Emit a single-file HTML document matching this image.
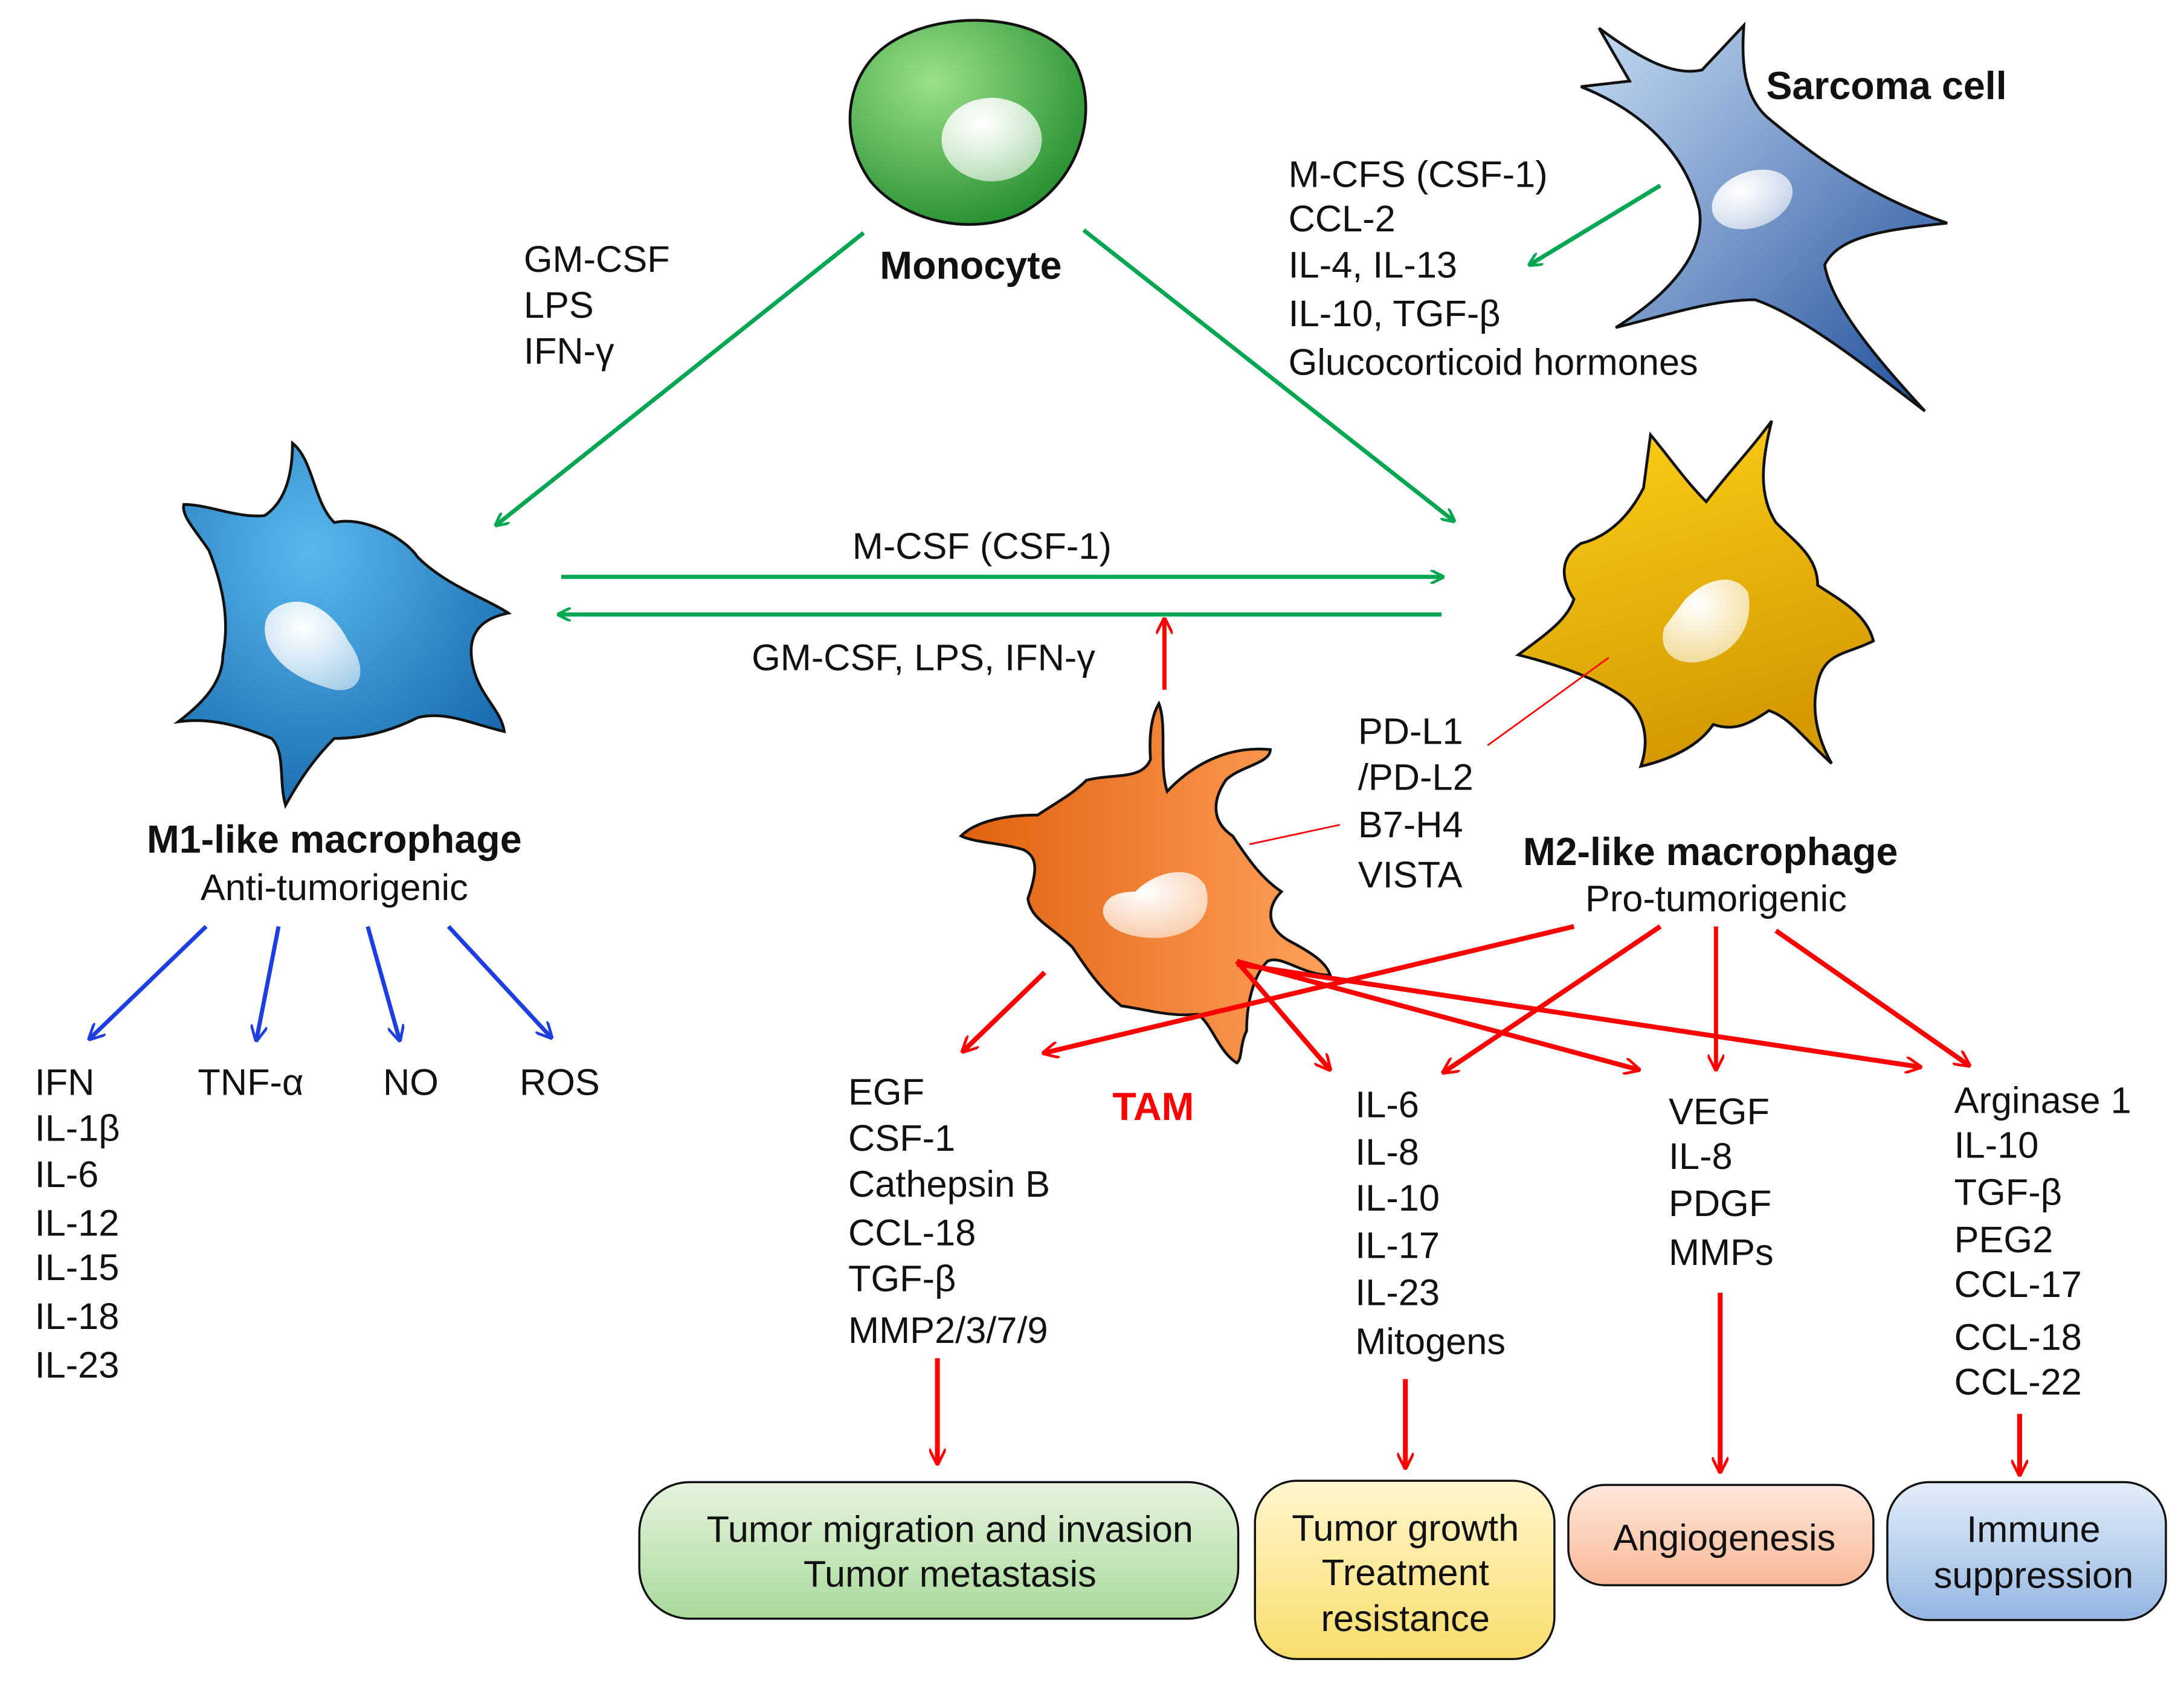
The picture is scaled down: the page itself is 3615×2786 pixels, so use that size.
<!DOCTYPE html>
<html><head><meta charset="utf-8"><style>
html,body{margin:0;padding:0;background:#fff;}
svg{display:block;}
text{font-family:"Liberation Sans",Arial,sans-serif;font-size:26.6px;fill:#111;}
.b{font-weight:bold;font-size:28px;}
.m{text-anchor:middle;}
</style></head><body>
<svg width="3615" height="2786" viewBox="0 0 1568 1208" xmlns="http://www.w3.org/2000/svg">
<defs>
<marker id="ag" markerWidth="10" markerHeight="10" refX="9" refY="5" orient="auto" markerUnits="userSpaceOnUse"><path d="M0,0 L10,5 L0,10" fill="none" stroke="#00a651" stroke-width="2"/></marker>
<marker id="ab" markerWidth="12" markerHeight="12" refX="11" refY="6" orient="auto" markerUnits="userSpaceOnUse"><path d="M0,0 L12,6 L0,12" fill="none" stroke="#1d3fe0" stroke-width="2"/></marker>
<marker id="ar" markerWidth="12" markerHeight="12" refX="11" refY="6" orient="auto" markerUnits="userSpaceOnUse"><path d="M0,0 L12,6 L0,12" fill="none" stroke="#f00" stroke-width="2"/></marker>
<radialGradient id="gm" cx="0.35" cy="0.3" r="0.8"><stop offset="0" stop-color="#9be08a"/><stop offset="1" stop-color="#1e8a2a"/></radialGradient>
<radialGradient id="gb" cx="0.4" cy="0.3" r="0.8"><stop offset="0" stop-color="#5ab8ee"/><stop offset="1" stop-color="#1465a8"/></radialGradient>
<linearGradient id="gs" x1="0" y1="0" x2="1" y2="1"><stop offset="0" stop-color="#c7dcf3"/><stop offset="1" stop-color="#1c4c9a"/></linearGradient>
<linearGradient id="gy" x1="0" y1="0" x2="0.3" y2="1"><stop offset="0" stop-color="#ffd11a"/><stop offset="1" stop-color="#d49a00"/></linearGradient>
<linearGradient id="go" x1="0" y1="0" x2="1" y2="0"><stop offset="0" stop-color="#e0620f"/><stop offset="1" stop-color="#ffa05a"/></linearGradient>
<radialGradient id="gn" cx="0.4" cy="0.3" r="0.8"><stop offset="0" stop-color="#fff"/><stop offset="1" stop-color="#fff" stop-opacity="0.55"/></radialGradient>
<linearGradient id="bg1" x1="0" y1="0" x2="0" y2="1"><stop offset="0" stop-color="#e6f3df"/><stop offset="1" stop-color="#a9d99a"/></linearGradient>
<linearGradient id="bg2" x1="0" y1="0" x2="0" y2="1"><stop offset="0" stop-color="#fff6cf"/><stop offset="1" stop-color="#f9dd6a"/></linearGradient>
<linearGradient id="bg3" x1="0" y1="0" x2="0" y2="1"><stop offset="0" stop-color="#ffe8dc"/><stop offset="1" stop-color="#f8b896"/></linearGradient>
<linearGradient id="bg4" x1="0" y1="0" x2="0" y2="1"><stop offset="0" stop-color="#e3edf9"/><stop offset="1" stop-color="#94b6e2"/></linearGradient>
</defs>

<path d="M640,30 C680,5 750,10 772,45 C790,80 775,130 735,152 C700,170 650,160 625,130 C600,95 608,50 640,30Z" fill="url(#gm)" stroke="#111" stroke-width="2"/>
<ellipse cx="712" cy="100" rx="36" ry="30" fill="url(#gn)"/>
<text class="b m" x="697" y="200">Monocyte</text>

<path d="M1148,20 C1175,40 1200,55 1222,50 L1252,18 C1250,45 1252,70 1270,85 C1300,110 1340,140 1398,160 C1350,165 1320,170 1310,190 C1315,220 1350,260 1382,295 C1330,255 1290,225 1260,215 C1230,215 1200,225 1160,235 C1200,210 1225,180 1220,150 C1210,110 1180,80 1135,62 L1170,58 Z" fill="url(#gs)" stroke="#111" stroke-width="2"/>
<ellipse cx="1258" cy="143" rx="30" ry="20" transform="rotate(-20 1258 143)" fill="url(#gn)"/>
<text class="b" x="1268" y="71">Sarcoma cell</text>

<text x="925" y="134">M-CFS (CSF-1)</text>
<text x="925" y="166">CCL-2</text>
<text x="925" y="199">IL-4, IL-13</text>
<text x="925" y="234">IL-10, TGF-β</text>
<text x="925" y="269">Glucocorticoid hormones</text>
<line x1="1192" y1="133" x2="1098" y2="190" stroke="#00a651" stroke-width="3" marker-end="url(#ag)"/>

<text x="376" y="195">GM-CSF</text>
<text x="376" y="228">LPS</text>
<text x="376" y="261">IFN-γ</text>
<line x1="620" y1="167" x2="356" y2="377" stroke="#00a651" stroke-width="3" marker-end="url(#ag)"/>
<line x1="778" y1="165" x2="1044" y2="374" stroke="#00a651" stroke-width="3" marker-end="url(#ag)"/>

<path d="M210,318 C225,330 225,360 240,375 C260,370 290,385 300,400 C320,420 350,430 365,440 C340,445 335,460 340,480 C345,500 360,510 362,525 C340,520 320,510 300,515 C280,525 260,530 240,530 C225,545 215,560 205,578 C200,560 205,540 195,530 C170,520 150,515 128,518 C145,505 160,490 160,470 C165,445 160,420 150,395 C140,380 130,370 132,362 C150,362 170,372 190,370 C205,360 210,340 210,318Z" fill="url(#gb)" stroke="#111" stroke-width="2"/>
<path d="M200,435 C220,425 240,440 250,460 C265,480 260,498 240,495 C220,490 200,480 192,462 C188,450 190,440 200,435Z" fill="url(#gn)"/>
<text class="b m" x="240" y="612">M1-like macrophage</text>
<text class="m" x="240" y="646">Anti-tumorigenic</text>

<text class="m" x="705" y="401">M-CSF (CSF-1)</text>
<line x1="403" y1="414" x2="1036" y2="414" stroke="#00a651" stroke-width="3" marker-end="url(#ag)"/>
<line x1="1035" y1="441" x2="401" y2="441" stroke="#00a651" stroke-width="3" marker-end="url(#ag)"/>
<text class="m" x="663" y="481">GM-CSF, LPS, IFN-γ</text>
<line x1="836" y1="495" x2="836" y2="444" stroke="#f00" stroke-width="3" marker-end="url(#ar)"/>

<path d="M1185,312 C1200,330 1210,345 1225,360 C1240,340 1255,325 1272,302 C1265,330 1262,355 1275,375 C1290,390 1305,400 1305,420 C1320,430 1340,440 1345,460 C1325,470 1310,468 1305,490 C1300,510 1305,530 1315,548 C1295,530 1285,515 1270,510 C1255,520 1245,525 1230,520 C1220,535 1200,545 1178,550 C1185,530 1180,510 1165,500 C1150,490 1130,480 1090,470 C1110,455 1125,445 1130,430 C1120,415 1120,400 1135,390 C1155,385 1170,370 1180,350 Z" fill="url(#gy)" stroke="#111" stroke-width="2"/>
<path d="M1210,430 C1225,415 1245,410 1255,425 C1260,450 1245,470 1220,475 C1200,478 1190,465 1195,450 Z" fill="url(#gn)"/>
<text class="b m" x="1228" y="621">M2-like macrophage</text>
<text class="m" x="1232" y="654">Pro-tumorigenic</text>

<text x="975" y="534">PD-L1</text>
<text x="975" y="567">/PD-L2</text>
<text x="975" y="601">B7-H4</text>
<text x="975" y="637">VISTA</text>
<line x1="1068" y1="535" x2="1155" y2="472" stroke="#f00" stroke-width="1.2"/>
<line x1="897" y1="606" x2="962" y2="592" stroke="#f00" stroke-width="1.2"/>

<path d="M832,505 C838,520 832,550 838,568 C855,550 880,535 912,538 C912,548 890,550 880,560 C870,575 870,590 885,600 C895,615 905,630 920,640 C910,650 908,665 925,675 C940,683 952,690 955,700 C935,700 920,685 910,690 C900,700 895,720 895,740 C890,750 892,760 888,763 C875,755 870,735 860,728 C840,730 825,725 805,722 C790,710 780,695 770,680 C755,665 740,660 738,645 C745,625 745,615 735,610 C720,605 700,605 690,600 C700,590 720,585 745,585 C760,575 770,570 780,560 C800,555 820,560 826,545 C825,530 826,515 832,505Z" fill="url(#go)" stroke="#111" stroke-width="2"/>
<path d="M815,640 C830,625 855,620 865,635 C872,655 860,670 835,673 C810,675 790,665 792,652 C795,642 805,640 815,640Z" fill="url(#gn)"/>
<text class="b m" x="828" y="804" style="fill:#f00">TAM</text>

<line x1="148" y1="665" x2="64" y2="746" stroke="#1d3fe0" stroke-width="3" marker-end="url(#ab)"/>
<line x1="200" y1="665" x2="184" y2="747" stroke="#1d3fe0" stroke-width="3" marker-end="url(#ab)"/>
<line x1="264" y1="665" x2="287" y2="747" stroke="#1d3fe0" stroke-width="3" marker-end="url(#ab)"/>
<line x1="322" y1="665" x2="396" y2="745" stroke="#1d3fe0" stroke-width="3" marker-end="url(#ab)"/>

<text x="25" y="786">IFN</text>
<text x="25" y="819">IL-1β</text>
<text x="25" y="852">IL-6</text>
<text x="25" y="887">IL-12</text>
<text x="25" y="919">IL-15</text>
<text x="25" y="954">IL-18</text>
<text x="25" y="989">IL-23</text>
<text x="142" y="786">TNF-α</text>
<text x="275" y="786">NO</text>
<text x="373" y="786">ROS</text>

<g stroke="#f00" stroke-width="3.5" fill="none">
<line x1="750" y1="698" x2="691" y2="755" marker-end="url(#ar)"/>
<line x1="1130" y1="665" x2="749" y2="756" marker-end="url(#ar)"/>
<line x1="1192" y1="665" x2="1036" y2="770" marker-end="url(#ar)"/>
<line x1="1232" y1="665" x2="1232" y2="768" stroke-width="3" marker-end="url(#ar)"/>
<line x1="1275" y1="668" x2="1414" y2="765" marker-end="url(#ar)"/>
<line x1="888" y1="690" x2="955" y2="768" marker-end="url(#ar)"/>
<line x1="888" y1="690" x2="1177" y2="768" marker-end="url(#ar)"/>
<line x1="888" y1="692" x2="1379" y2="766" marker-end="url(#ar)"/>
<line x1="673" y1="975" x2="673" y2="1051" marker-end="url(#ar)"/>
<line x1="1009" y1="990" x2="1009" y2="1054" marker-end="url(#ar)"/>
<line x1="1235" y1="928" x2="1235" y2="1057" marker-end="url(#ar)"/>
<line x1="1450" y1="1015" x2="1450" y2="1059" marker-end="url(#ar)"/>
</g>

<text x="609" y="793">EGF</text>
<text x="609" y="826">CSF-1</text>
<text x="609" y="859">Cathepsin B</text>
<text x="609" y="894">CCL-18</text>
<text x="609" y="927">TGF-β</text>
<text x="609" y="964">MMP2/3/7/9</text>

<text x="973" y="802">IL-6</text>
<text x="973" y="836">IL-8</text>
<text x="973" y="869">IL-10</text>
<text x="973" y="903">IL-17</text>
<text x="973" y="937">IL-23</text>
<text x="973" y="972">Mitogens</text>

<text x="1198" y="807">VEGF</text>
<text x="1198" y="839">IL-8</text>
<text x="1198" y="873">PDGF</text>
<text x="1198" y="908">MMPs</text>

<text x="1403" y="799">Arginase 1</text>
<text x="1403" y="831">IL-10</text>
<text x="1403" y="865">TGF-β</text>
<text x="1403" y="899">PEG2</text>
<text x="1403" y="931">CCL-17</text>
<text x="1403" y="969">CCL-18</text>
<text x="1403" y="1001">CCL-22</text>

<rect x="459" y="1064" width="430" height="98" rx="36" fill="url(#bg1)" stroke="#111" stroke-width="1.5"/>
<text class="m" x="682" y="1107">Tumor migration and invasion</text>
<text class="m" x="682" y="1139">Tumor metastasis</text>
<rect x="901" y="1063" width="215" height="128" rx="30" fill="url(#bg2)" stroke="#111" stroke-width="1.5"/>
<text class="m" x="1009" y="1106">Tumor growth</text>
<text class="m" x="1009" y="1138">Treatment</text>
<text class="m" x="1009" y="1171">resistance</text>
<rect x="1126" y="1066" width="219" height="72" rx="26" fill="url(#bg3)" stroke="#111" stroke-width="1.5"/>
<text class="m" x="1238" y="1113">Angiogenesis</text>
<rect x="1355" y="1064" width="200" height="99" rx="30" fill="url(#bg4)" stroke="#111" stroke-width="1.5"/>
<text class="m" x="1460" y="1107">Immune</text>
<text class="m" x="1460" y="1140">suppression</text>
</svg>
</body></html>
